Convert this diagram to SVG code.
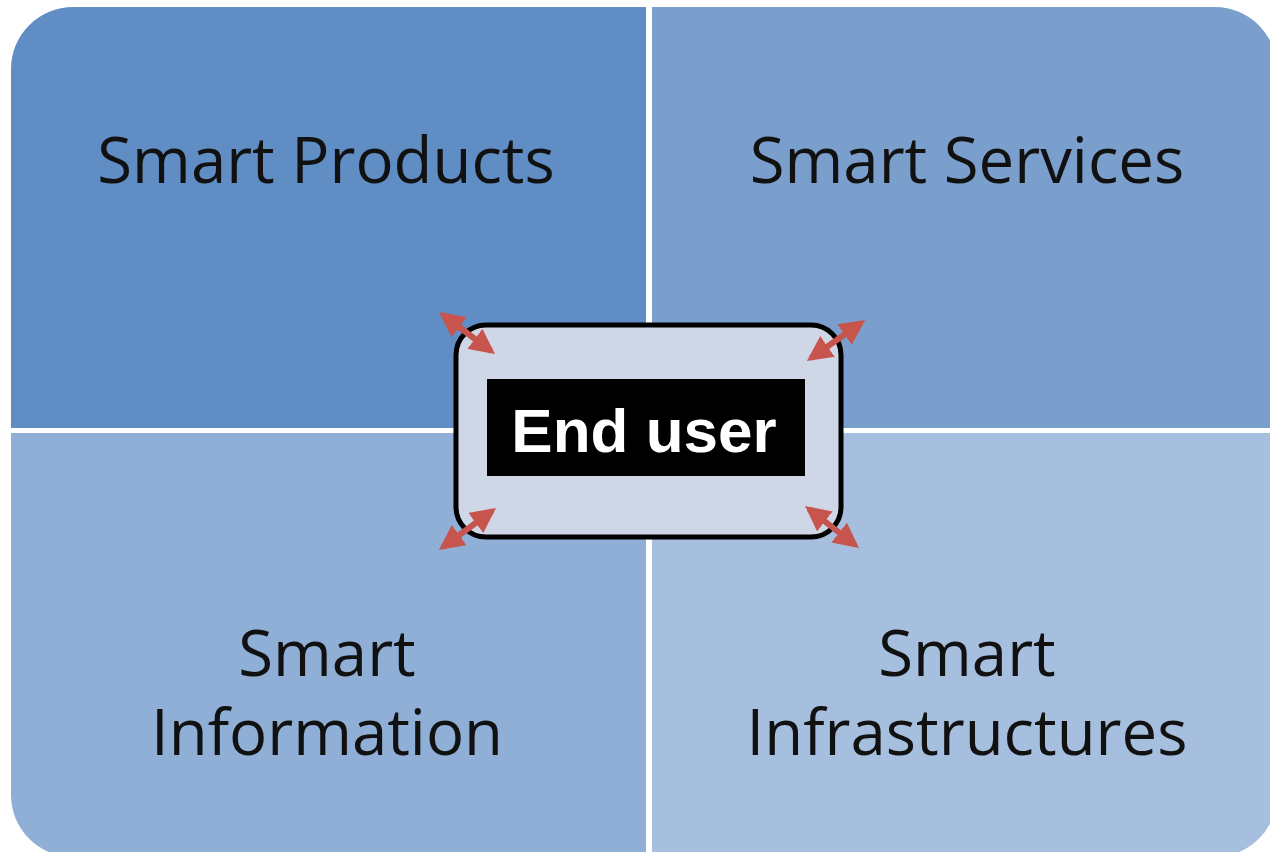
<svg xmlns="http://www.w3.org/2000/svg" width="1270" height="852" viewBox="0 0 1270 852">
<defs>
<style>
.lbl{font-family:"Open Sans","Liberation Sans",sans-serif;font-size:63.5px;fill:#111;text-anchor:middle}
.arr{stroke:#C8554D;stroke-width:6;fill:none;marker-start:url(#ah);marker-end:url(#ah)}
</style>
<marker id="ah" viewBox="0 0 10 10" refX="8" refY="5" markerWidth="4.2" markerHeight="4.2" orient="auto-start-reverse" markerUnits="strokeWidth">
<path d="M0,0 L10,5 L0,10 Z" fill="#C8554D"/>
</marker>
<clipPath id="outer">
<rect x="11" y="7" width="1266" height="850" rx="62" ry="62"/>
</clipPath>
</defs>
<rect width="1270" height="852" fill="#fff"/>
<g clip-path="url(#outer)">
<g id="products"><rect x="0" y="0" width="646" height="428" fill="#5F8DC4"/><text class="lbl" x="326" y="183">Smart Products</text></g>
<g id="services"><rect x="652" y="0" width="630" height="428" fill="#7A9FCC"/><text class="lbl" x="967" y="183">Smart Services</text></g>
<g id="information"><rect x="0" y="433" width="646" height="430" fill="#8FAFD6"/><text class="lbl" x="327" y="676">Smart</text><text class="lbl" x="327" y="755">Information</text></g>
<g id="infrastructures"><rect x="652" y="433" width="630" height="430" fill="#A6BFDF"/><text class="lbl" x="967" y="676">Smart</text><text class="lbl" x="967" y="755">Infrastructures</text></g>
</g>
<g id="enduser">
<rect x="456" y="325" width="385" height="212" rx="30" ry="30" fill="#CFD7E7" stroke="#000" stroke-width="5"/>
<rect x="487" y="379" width="318" height="97" fill="#000"/>
<text x="644" y="452" font-family="Liberation Sans, Arial, sans-serif" font-weight="bold" font-size="62" fill="#fff" text-anchor="middle">End user</text>
</g>
<g id="connectors">
<line class="arr" x1="443" y1="315" x2="491" y2="351"/>
<line class="arr" x1="861" y1="323" x2="811" y2="358"/>
<line class="arr" x1="443" y1="547" x2="492" y2="511"/>
<line class="arr" x1="809" y1="509" x2="855" y2="545"/>
</g>
</svg>
